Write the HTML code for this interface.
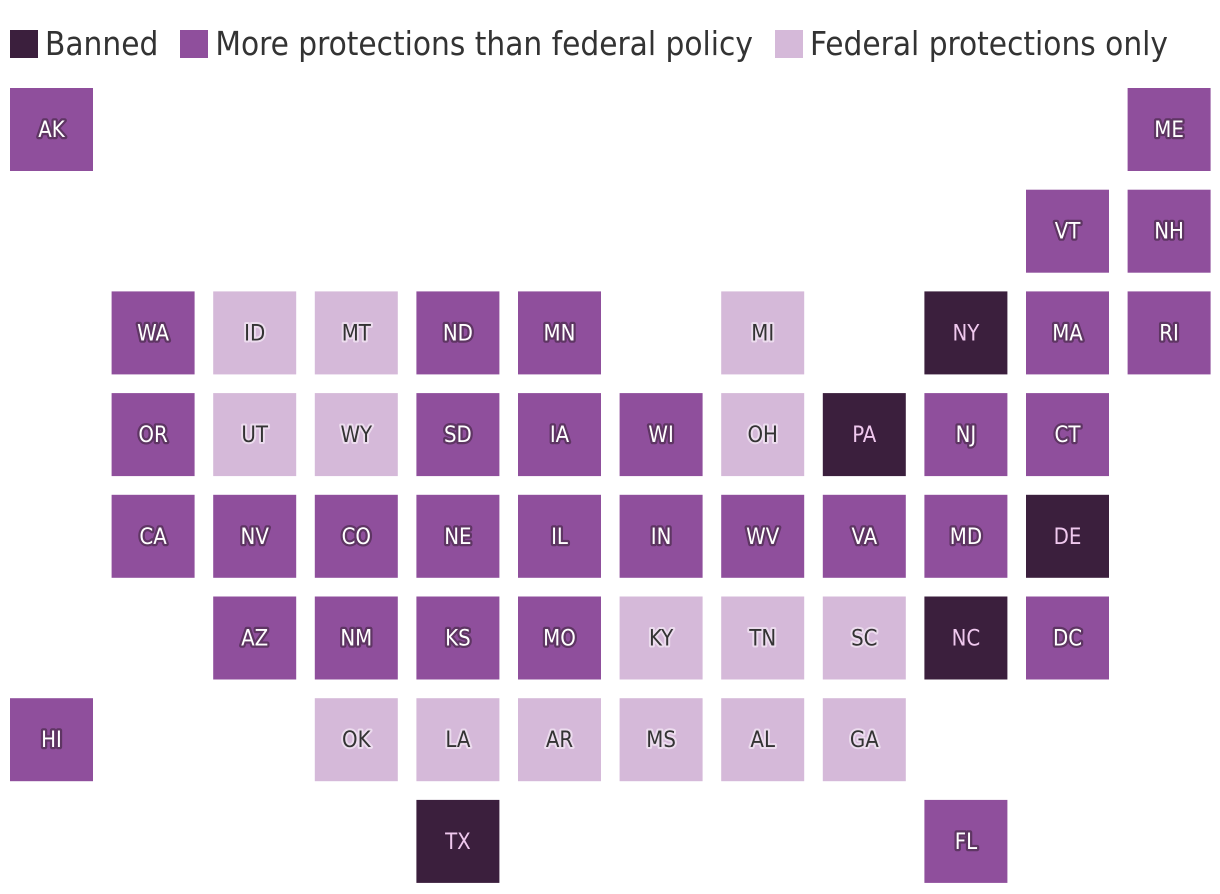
<!DOCTYPE html>
<html><head><meta charset="utf-8">
<style>
body{margin:0;width:1220px;height:894px;background:#fff;font-family:"Liberation Sans",sans-serif;overflow:hidden}
#legend{position:absolute;top:24px;left:10px;display:flex;align-items:center;font-size:33px;color:#333;white-space:nowrap;font-family:"DejaVu Sans Condensed","Liberation Sans",sans-serif}
.sw{width:28px;height:28px;display:inline-block;margin-right:7px}
.li{display:flex;align-items:center;margin-right:22px}
svg{position:absolute;left:0;top:0}
</style></head><body>
<div id="legend">
<div class="li"><span class="sw" style="background:#3b1f3d"></span>Banned</div>
<div class="li"><span class="sw" style="background:#8f4f9c"></span>More protections than federal policy</div>
<div class="li"><span class="sw" style="background:#d5b9d9"></span>Federal protections only</div>
</div>
<svg id="map" width="1220" height="894"></svg>
<script>
const states=["AK","ME","VT","NH","WA","ID","MT","ND","MN","MI","NY","MA","RI","OR","UT","WY","SD","IA","WI","OH","PA","NJ","CT","CA","NV","CO","NE","IL","IN","WV","VA","MD","DE","AZ","NM","KS","MO","KY","TN","SC","NC","DC","HI","OK","LA","AR","MS","AL","GA","TX","FL"];
const cols=[0,11,10,11,1,2,3,4,5,7,9,10,11,1,2,3,4,5,6,7,8,9,10,1,2,3,4,5,6,7,8,9,10,2,3,4,5,6,7,8,9,10,0,3,4,5,6,7,8,4,9];
const rows=[0,0,1,1,2,2,2,2,2,2,2,2,2,3,3,3,3,3,3,3,3,3,3,4,4,4,4,4,4,4,4,4,4,5,5,5,5,5,5,5,5,5,6,6,6,6,6,6,6,7,7];
const status=["M","M","M","M","M","F","F","M","M","F","B","M","M","M","F","F","M","M","M","F","B","M","M","M","M","M","M","M","M","M","M","M","B","M","M","M","M","F","F","F","B","M","M","F","F","F","F","F","F","B","M"];
const fill={B:"#3b1f3d",M:"#8f4f9c",F:"#d5b9d9"};
const xPos=c=>10+c*101.6, yPos=r=>88+r*101.7;
const svg=document.getElementById('map'),NS="http://www.w3.org/2000/svg";
states.forEach((s,i)=>{
 const g=document.createElementNS(NS,'g');
 
 
 const r=document.createElementNS(NS,'rect');
 r.setAttribute('x',xPos(cols[i]));r.setAttribute('y',yPos(rows[i]));
 r.setAttribute('width',83);r.setAttribute('height',83);
 r.setAttribute('fill',fill[status[i]]);
 g.appendChild(r);
 const t=document.createElementNS(NS,'text');
 t.setAttribute('x',xPos(cols[i])+41.5);t.setAttribute('y',yPos(rows[i])+49);
 t.setAttribute('text-anchor','middle');t.setAttribute('font-size','22');
 t.setAttribute('font-family','DejaVu Sans Condensed, Liberation Sans, sans-serif');
 if(status[i]==="B"){t.setAttribute('fill','#efc8ee');}
 else if(status[i]==="M"){t.setAttribute('fill','#fff');t.setAttribute('stroke','#5e3563');t.setAttribute('stroke-width','4.5');t.setAttribute('paint-order','stroke');t.setAttribute('stroke-linejoin','round');}
 else{t.setAttribute('fill','#333');t.setAttribute('stroke','#ecdcee');t.setAttribute('stroke-width','4');t.setAttribute('paint-order','stroke');t.setAttribute('stroke-linejoin','round');}
 t.textContent=s;
 g.appendChild(t);
 svg.appendChild(g);
});
</script>
</body></html>
